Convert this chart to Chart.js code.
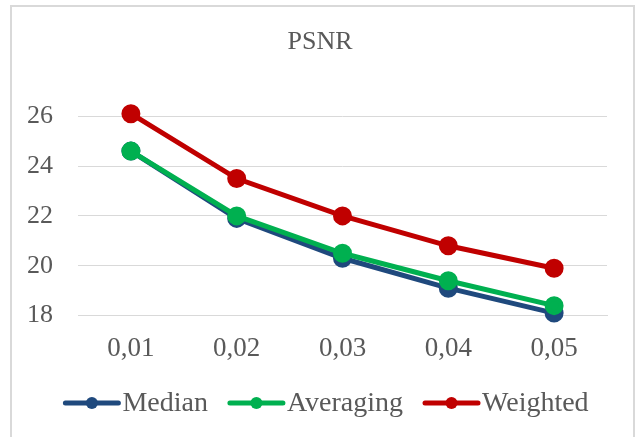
<!DOCTYPE html>
<html>
<head>
<meta charset="utf-8">
<script src="https://cdn.jsdelivr.net/npm/chart.js@4/dist/chart.umd.min.js"></script>
<style>
  html, body { margin: 0; padding: 0; background: #ffffff; overflow: hidden; }
  #frame {
    position: absolute; left: 10px; top: 5px;
    width: 621px; height: 520px;
    border: 2px solid #d9d9d9; box-sizing: content-box;
  }
  #chart { position: absolute; left: 0; top: 0; }
</style>
</head>
<body>
<div id="frame"></div>
<canvas id="chart" width="636" height="437"></canvas>
<script>
// Noise density levels on the x axis
const categories = ['0,01', '0,02', '0,03', '0,04', '0,05'];

// PSNR (dB) for each filter
const median    = [24.6, 21.9, 20.3, 19.1, 18.1];
const averaging = [24.6, 22.0, 20.5, 19.4, 18.4];
const weighted  = [26.1, 23.5, 22.0, 20.8, 19.9];

// Value axis ticks
const yTicks = [18, 20, 22, 24, 26];

const seriesNames  = ['Median', 'Averaging', 'Weighted'];
const seriesColors = ['#1f497d', '#00b050', '#c00000'];

const FONT = "'Liberation Serif', 'Times New Roman', serif";
const TEXT = '#595959';
const GRID = '#d9d9d9';

// Centre the title on the framed box rather than on the padded layout
const titleCentre = {
  id: 'titleCentre',
  afterLayout(chart) {
    if (chart.titleBlock) chart.titleBlock.left += 31;
  }
};

// Legend drawn as a line with a marker, directly followed by the label
const lineLegend = {
  id: 'lineLegend',
  afterDraw(chart) {
    const ctx = chart.ctx;
    const cy = 403, seg = 57, gap = 2, spacing = 20;
    ctx.save();
    ctx.font = '28px ' + FONT;
    const items = chart.data.datasets.map(ds => ({
      label: ds.label, color: ds.borderColor, w: seg + gap + ctx.measureText(ds.label).width
    }));
    const total = items.reduce((s, it) => s + it.w, 0) + spacing * (items.length - 1);
    let x = 326 - total / 2;
    items.forEach(it => {
      ctx.strokeStyle = it.color;
      ctx.lineWidth = 5;
      ctx.lineCap = 'round';
      ctx.beginPath();
      ctx.moveTo(x + 2, cy);
      ctx.lineTo(x + seg - 2, cy);
      ctx.stroke();
      ctx.fillStyle = it.color;
      ctx.beginPath();
      ctx.arc(x + seg / 2, cy, 6, 0, Math.PI * 2);
      ctx.fill();
      ctx.fillStyle = TEXT;
      ctx.textBaseline = 'middle';
      ctx.textAlign = 'left';
      ctx.fillText(it.label, x + seg + gap, cy + 1);
      x += it.w + spacing;
    });
    ctx.restore();
  }
};

const series = [median, averaging, weighted];

new Chart(document.getElementById('chart'), {
  type: 'line',
  data: {
    labels: categories,
    datasets: series.map((vals, i) => ({
      label: seriesNames[i],
      data: vals,
      borderColor: seriesColors[i],
      backgroundColor: seriesColors[i],
      pointBackgroundColor: seriesColors[i],
      pointBorderColor: seriesColors[i],
      borderWidth: 5,
      pointRadius: 7,
      pointHoverRadius: 7,
      tension: 0,
      clip: false,
      order: 3 - i
    }))
  },
  options: {
    responsive: false,
    animation: false,
    events: [],
    layout: { padding: { left: 2, right: 29, top: 0, bottom: 55 } },
    plugins: {
      legend: { display: false },
      tooltip: { enabled: false },
      title: {
        display: true,
        text: 'PSNR',
        color: TEXT,
        font: { family: FONT, size: 26, weight: 'normal' },
        padding: { top: 27, bottom: 58 }
      }
    },
    scales: {
      x: {
        offset: true,
        grid: { display: false, drawTicks: false },
        border: { display: true, color: GRID, width: 1 },
        ticks: { color: TEXT, padding: 17, font: { family: FONT, size: 27 } }
      },
      y: {
        min: yTicks[0],
        max: yTicks[yTicks.length - 1],
        afterBuildTicks(axis) { axis.ticks = yTicks.map(v => ({ value: v })); },
        grid: { color: GRID, lineWidth: 1, drawTicks: false },
        border: { display: false },
        ticks: { color: TEXT, padding: 25, font: { family: FONT, size: 26 } }
      }
    }
  },
  plugins: [titleCentre, lineLegend]
});
</script>
</body>
</html>
